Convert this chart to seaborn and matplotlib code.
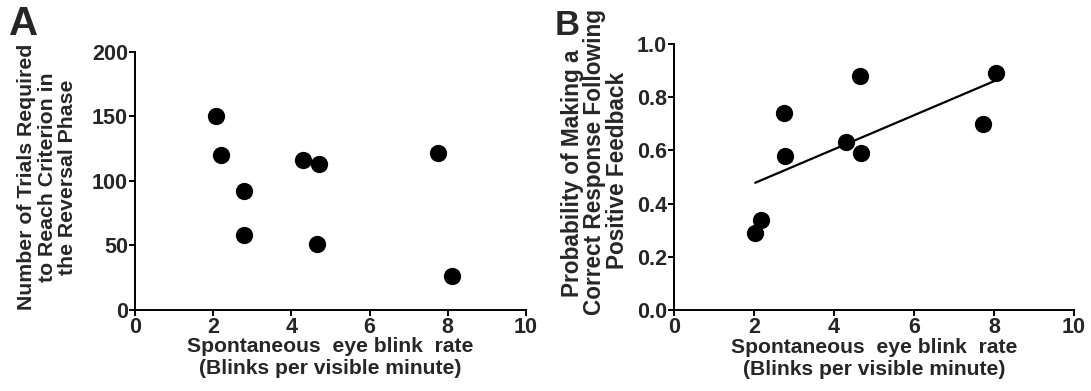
import pandas as pd
import matplotlib.pyplot as plt
import seaborn as sns

# values
blink_rate_a = [2.07, 2.20, 2.80, 2.78, 4.30, 4.70, 4.66, 7.74, 8.11]
trials_to_criterion = [150, 120, 92, 58, 116, 113, 51, 122, 26]

blink_rate_b = [2.03, 2.18, 2.75, 2.77, 4.29, 4.66, 4.68, 7.72, 8.04]
prob_correct = [0.29, 0.34, 0.74, 0.58, 0.63, 0.88, 0.59, 0.70, 0.89]

x_ticks = [0, 2, 4, 6, 8, 10]
y_ticks_a = [0, 50, 100, 150, 200]
y_ticks_b = [0.0, 0.2, 0.4, 0.6, 0.8, 1.0]

df_a = pd.DataFrame({'blink': blink_rate_a, 'trials': trials_to_criterion})
df_b = pd.DataFrame({'blink': blink_rate_b, 'prob': prob_correct})

sns.set_style('ticks')
plt.rcParams['font.family'] = ['Liberation Sans', 'DejaVu Sans']
plt.rcParams['font.weight'] = 'bold'
plt.rcParams['axes.labelweight'] = 'bold'

fig = plt.figure(figsize=(10.91, 3.91), dpi=100)
ax_a = fig.add_axes([0.1237, 0.2072, 0.3584, 0.660])
ax_b = fig.add_axes([0.6178, 0.2072, 0.3666, 0.680])

xlabel = 'Spontaneous  eye blink  rate\n(Blinks per visible minute)'

# panel A
sns.scatterplot(data=df_a, x='blink', y='trials', ax=ax_a, color='black',
                s=155, edgecolor='black', linewidth=0)
ax_a.set_xlim(0, 10)
ax_a.set_ylim(0, 200)
ax_a.set_yticks(y_ticks_a)
ax_a.set_ylabel('Number of Trials Required\nto Reach Criterion in\nthe Reversal Phase',
                fontsize=15.3, linespacing=1.09)
ax_a.yaxis.set_label_coords(-0.148, 0.516)

# panel B, with linear fit
sns.regplot(data=df_b, x='blink', y='prob', ax=ax_b, ci=None, truncate=True,
            color='black', scatter_kws={'s': 155, 'linewidths': 0, 'alpha': 1},
            line_kws={'linewidth': 1.6})
ax_b.set_xlim(0, 10)
ax_b.set_ylim(0, 1.0)
ax_b.set_yticks(y_ticks_b)
ax_b.set_yticklabels([f'{v:.1f}' for v in y_ticks_b])
ax_b.set_ylabel('')
# the y title of panel B has its three lines slightly offset in the original
b_title_lines = ['Probability of Making a', 'Correct Response Following', 'Positive Feedback']
b_line_x = [572, 595, 618]
b_line_y = [173, 162, 170]
for txt, px, py in zip(b_title_lines, b_line_x, b_line_y):
    fig.text(px / 1091, 1 - py / 391, txt, rotation=90, fontsize=16.3,
             fontweight='bold', ha='center', va='center')

for ax in (ax_a, ax_b):
    ax.set_xticks(x_ticks)
    ax.set_xlabel(xlabel, fontsize=15.2, linespacing=1.2)
    ax.xaxis.set_label_coords(0.5, -0.105)
    ax.xaxis.label.set_va('top')
    ax.tick_params(labelsize=15.5, length=4, width=1.4, pad=1, color='black')
    for side in ('left', 'bottom'):
        ax.spines[side].set_linewidth(1.4)
        ax.spines[side].set_color('black')
    sns.despine(ax=ax)

fig.text(0.0085, 0.9105, 'A', fontsize=29, fontweight='bold', va='baseline')
fig.text(0.5085, 0.9105, 'B', fontsize=25, fontweight='bold', va='baseline')

plt.savefig('out.png', dpi=100)
